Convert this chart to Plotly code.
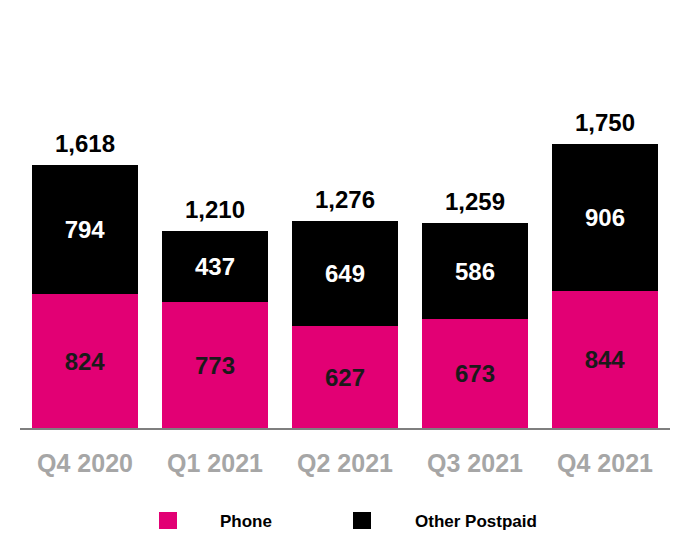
import plotly.graph_objects as go

quarters = ["Q4 2020", "Q1 2021", "Q2 2021", "Q3 2021", "Q4 2021"]
phone = [824, 773, 627, 673, 844]
other_postpaid = [794, 437, 649, 586, 906]
totals = [p + o for p, o in zip(phone, other_postpaid)]

MAGENTA = "#E20074"
FONT = "Liberation Sans, Arial, sans-serif"

fig = go.Figure()
fig.add_trace(go.Bar(
    x=quarters, y=phone, name="Phone",
    marker=dict(color=MAGENTA, line=dict(width=0)),
    texttemplate="%{y}", textposition="inside", insidetextanchor="middle",
    textangle=0,
    insidetextfont=dict(family=FONT, size=24, color="#1a1a1a", weight="bold"),
))
fig.add_trace(go.Bar(
    x=quarters, y=other_postpaid, name="Other Postpaid",
    marker=dict(color="#000000", line=dict(width=0)),
    texttemplate="%{y}", textposition="inside", insidetextanchor="middle",
    textangle=0,
    insidetextfont=dict(family=FONT, size=24, color="#ffffff", weight="bold"),
))

for q, t in zip(quarters, totals):
    fig.add_annotation(
        x=q, y=t, text=f"{t:,}", showarrow=False,
        yanchor="bottom", yshift=6,
        font=dict(family=FONT, size=24, color="#000000", weight="bold"),
    )

# Custom legend (positions in screen pixels relative to plot area)
W_PLOT, H_PLOT, L, B_PX = 650, 325, 20, 428

def px_x(px):
    return (px - L) / W_PLOT

def px_y(py):
    return (B_PX - py) / H_PLOT

legend_items = [("Phone", MAGENTA, 159, 218), ("Other Postpaid", "#000000", 353, 413)]
for label, color, sx, tx in legend_items:
    fig.add_shape(type="rect", xref="paper", yref="paper",
                  x0=px_x(sx), x1=px_x(sx + 18), y0=px_y(529), y1=px_y(512),
                  fillcolor=color, line=dict(width=0))
    fig.add_annotation(xref="paper", yref="paper", x=px_x(tx), y=px_y(521),
                       text=label, showarrow=False, xanchor="left", yanchor="middle",
                       font=dict(family=FONT, size=17, color="#000000", weight="bold"))

fig.update_layout(
    barmode="stack",
    bargap=0.19,
    width=690, height=560,
    margin=dict(l=12, r=28, t=95, b=140),
    plot_bgcolor="white", paper_bgcolor="white",
    showlegend=False,
    xaxis=dict(
        showline=True, linecolor="#7f7f7f", linewidth=2,
        showgrid=False, ticks="", ticklabelstandoff=12,
        tickfont=dict(family=FONT, size=25, color="#A6A6A6", weight="bold"),
    ),
    yaxis=dict(range=[0, 2000], visible=False, showgrid=False, zeroline=False),
)

fig.write_html("out.html")
